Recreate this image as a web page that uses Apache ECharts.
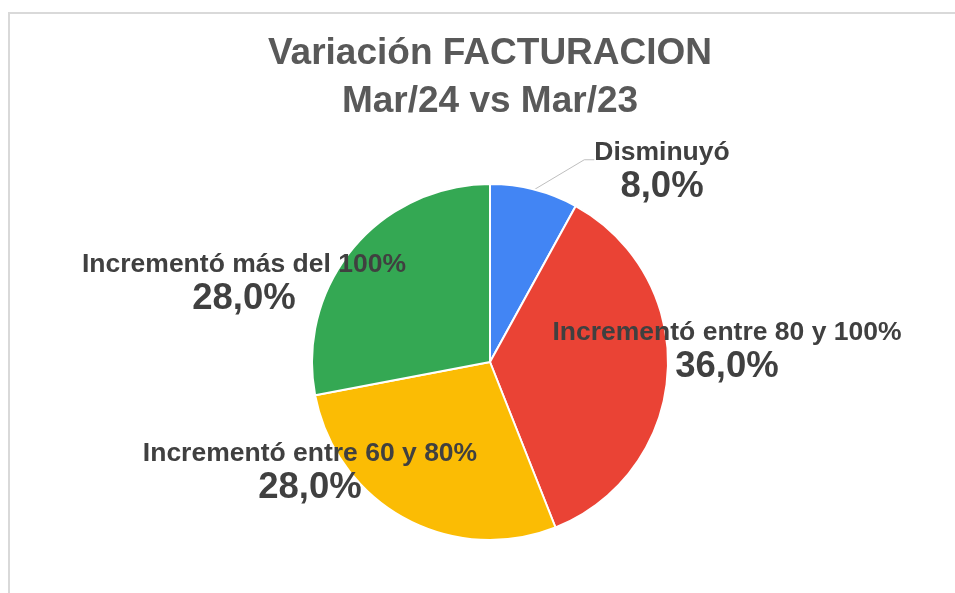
<!DOCTYPE html>
<html>
<head>
<meta charset="utf-8">
<script src="https://cdn.jsdelivr.net/npm/echarts@6/dist/echarts.min.js"></script>
<style>
  html, body { margin: 0; padding: 0; background: #fff; }
  #container { width: 955px; height: 593px; }
</style>
</head>
<body>
<div id="container"></div>
<script>
var categories = ['Disminuyó', 'Incrementó entre 80 y 100%', 'Incrementó entre 60 y 80%', 'Incrementó más del 100%']
var values = [8, 36, 28, 28]
var colors = ['#4285F4', '#EA4335', '#FBBC04', '#34A853']

// where each label block sits (centre of the label box)
var labelPos = [[662, 153], [727, 351], [310, 472], [244, 283]]

var font = '"Liberation Sans", Arial, sans-serif'

window.onload = function () {
    var myChart = echarts.init(document.getElementById('container'))

    var data = []
    for (var i = 0; i < categories.length; i++) {
        data.push({
            name: categories[i],
            value: values[i],
            itemStyle: { color: colors[i] },
            labelLine: { show: i === 0 }
        })
    }

    var option = {
        animation: false,
        backgroundColor: '#fff',
        title: {
            text: 'Variación FACTURACION\nMar/24 vs Mar/23',
            left: 490,
            top: 30,
            padding: 0,
            textAlign: 'center',
            textStyle: {
                fontFamily: font,
                fontSize: 37,
                fontWeight: 'bold',
                color: '#595959',
                lineHeight: 48
            }
        },
        graphic: [{
            type: 'line',
            shape: { x1: 8, y1: 13, x2: 955, y2: 13 },
            style: { stroke: '#d9d9d9', lineWidth: 2 }
        }, {
            type: 'line',
            shape: { x1: 9, y1: 13, x2: 9, y2: 593 },
            style: { stroke: '#d9d9d9', lineWidth: 2 }
        }],
        series: [{
            type: 'pie',
            center: [490, 362],
            radius: 178,
            startAngle: 90,
            clockwise: true,
            avoidLabelOverlap: false,
            itemStyle: { borderColor: '#fff', borderWidth: 2 },
            label: {
                show: true,
                position: 'outside',
                formatter: function (p) {
                    var s = '{n|' + p.name + '}\n{v|' + p.percent.toFixed(1).replace('.', ',') + '%}'
                    // blank line on top so the leader meets the name line
                    if (p.dataIndex === 0) s = '{s| }\n' + s
                    return s
                },
                rich: {
                    s: { fontSize: 10, lineHeight: 36 },
                    n: { fontFamily: font, fontSize: 26.5, fontWeight: 'bold', color: '#404040', lineHeight: 32, align: 'center' },
                    v: { fontFamily: font, fontSize: 36.5, fontWeight: 'bold', color: '#404040', lineHeight: 36, align: 'center' }
                }
            },
            labelLine: {
                length: 10,
                length2: 10,
                lineStyle: { color: '#bfbfbf', width: 1 }
            },
            labelLayout: function (params) {
                var p = labelPos[params.dataIndex]
                return { x: p[0], y: p[1], align: 'center', verticalAlign: 'middle' }
            },
            emphasis: { disabled: true },
            data: data
        }]
    }

    myChart.setOption(option, true)
}
</script>
</body>
</html>
